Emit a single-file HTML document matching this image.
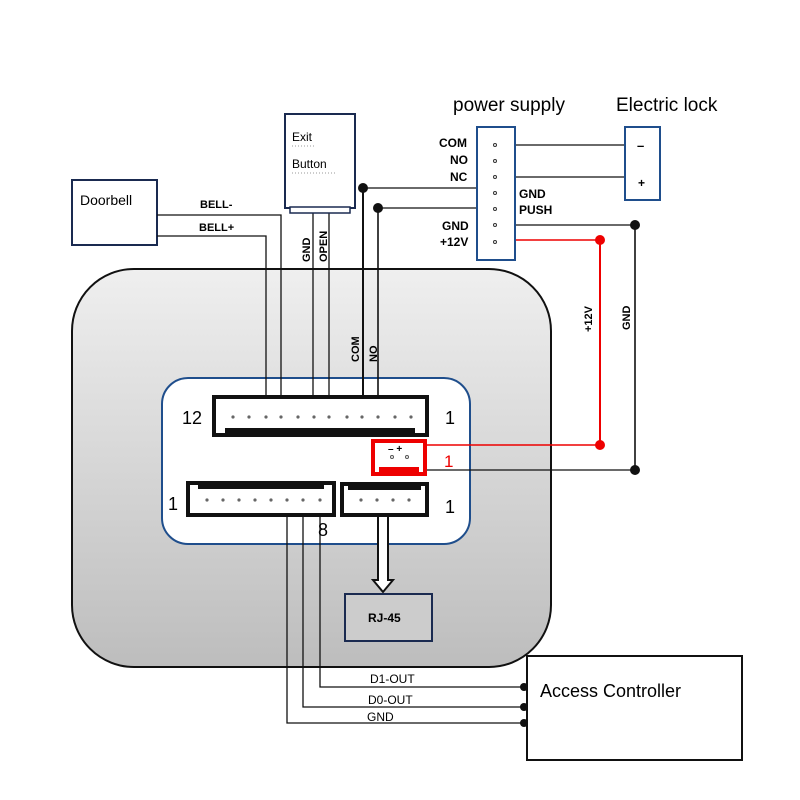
<!DOCTYPE html>
<html><head><meta charset="utf-8"><style>html,body{margin:0;padding:0;background:#fff}svg{display:block}text{font-family:"Liberation Sans",sans-serif}</style></head><body>
<svg width="800" height="800" viewBox="0 0 800 800" xmlns="http://www.w3.org/2000/svg">
<defs>
<linearGradient id="g" x1="0" y1="0" x2="0" y2="1"><stop offset="0" stop-color="#efefef"/><stop offset="1" stop-color="#bdbdbd"/></linearGradient>
</defs>
<!-- outer body -->
<rect x="72" y="269" width="479" height="398" rx="62" fill="url(#g)" stroke="#111" stroke-width="2"/>
<!-- inner -->
<rect x="162" y="378" width="308" height="166" rx="26" fill="#fff" stroke="#1f4e8c" stroke-width="2"/>

<!-- Doorbell -->
<rect x="72" y="180" width="85" height="65" fill="#fff" stroke="#1a2a50" stroke-width="2"/>
<text x="80" y="205" font-size="14">Doorbell</text>
<text x="200" y="208" font-size="11" font-weight="bold">BELL-</text>
<text x="199" y="231" font-size="11" font-weight="bold">BELL+</text>
<g stroke="#111" stroke-width="1.3" fill="none">
<polyline points="157,215 281,215 281,417"/>
<polyline points="157,236 266,236 266,417"/>
<line x1="313" y1="213" x2="313" y2="417"/>
<line x1="329" y1="213" x2="329" y2="417"/>
<polyline points="363,188 495,188" />
<polyline points="378,208 495,208" />
<line x1="363" y1="188" x2="363" y2="417" stroke-width="2"/>
<line x1="378" y1="208" x2="378" y2="417" stroke-width="1.6"/>
<line x1="495" y1="145" x2="625" y2="145"/>
<line x1="495" y1="177" x2="625" y2="177"/>
<line x1="495" y1="225" x2="635" y2="225"/>
<line x1="635" y1="225" x2="635" y2="470" stroke-width="1.6"/>
<line x1="425" y1="470" x2="635" y2="470"/>
<polyline points="320,500 320,687 524,687"/>
<polyline points="303,500 303,707 524,707"/>
<polyline points="287,500 287,723 524,723"/>
</g>
<g stroke="#e00" stroke-width="1.5" fill="none">
<line x1="495" y1="240" x2="600" y2="240"/>
<line x1="600" y1="240" x2="600" y2="445" stroke-width="2"/>
<line x1="425" y1="445" x2="600" y2="445"/>
</g>
<g fill="#111">
<circle cx="363" cy="188" r="5"/><circle cx="378" cy="208" r="5"/>
<circle cx="635" cy="225" r="5"/><circle cx="635" cy="470" r="5"/>
<circle cx="524" cy="687" r="4"/><circle cx="524" cy="707" r="4"/><circle cx="524" cy="723" r="4"/>
</g>
<g fill="#e00"><circle cx="600" cy="240" r="5"/><circle cx="600" cy="445" r="5"/></g>

<!-- Exit button -->
<rect x="285" y="114" width="70" height="94" fill="#fff" stroke="#1a2a50" stroke-width="2"/>
<rect x="290" y="207" width="60" height="6" fill="#fff" stroke="#1a2a50" stroke-width="1.5"/>
<text x="292" y="141" font-size="12">Exit</text>
<text x="292" y="168" font-size="12">Button</text>
<line x1="292" y1="146" x2="314" y2="146" stroke="#999" stroke-dasharray="1,2"/>
<line x1="292" y1="173" x2="337" y2="173" stroke="#999" stroke-dasharray="1,2"/>
<text transform="translate(310,262) rotate(-90)" font-size="11" font-weight="bold">GND</text>
<text transform="translate(327,262) rotate(-90)" font-size="11" font-weight="bold">OPEN</text>
<text transform="translate(359,362) rotate(-90)" font-size="11" font-weight="bold">COM</text>
<text transform="translate(377,362) rotate(-90)" font-size="11" font-weight="bold">NO</text>
<text transform="translate(592,332) rotate(-90)" font-size="11" font-weight="bold">+12V</text>
<text transform="translate(630,330) rotate(-90)" font-size="11" font-weight="bold">GND</text>

<!-- power supply -->
<text x="453" y="111" font-size="19">power supply</text>
<text x="616" y="111" font-size="19">Electric lock</text>
<rect x="477" y="127" width="38" height="133" fill="#fff" stroke="#1f4e8c" stroke-width="2"/>
<g fill="#fff" stroke="#333" stroke-width="1">
<circle cx="495" cy="145" r="1.5"/><circle cx="495" cy="161" r="1.5"/><circle cx="495" cy="177" r="1.5"/>
<circle cx="495" cy="193" r="1.5"/><circle cx="495" cy="209" r="1.5"/><circle cx="495" cy="225" r="1.5"/><circle cx="495" cy="242" r="1.5"/>
</g>
<g font-size="12" font-weight="bold">
<text x="439" y="147">COM</text><text x="450" y="164">NO</text><text x="450" y="181">NC</text>
<text x="519" y="198">GND</text><text x="519" y="214">PUSH</text>
<text x="442" y="230">GND</text><text x="440" y="246">+12V</text>
</g>
<rect x="625" y="127" width="35" height="73" fill="#fff" stroke="#1f4e8c" stroke-width="2"/>
<text x="637" y="150" font-size="13" font-weight="bold">–</text>
<text x="638" y="187" font-size="12" font-weight="bold">+</text>

<!-- 12 pin -->
<rect x="214" y="397" width="213" height="38" fill="#fff" stroke="#111" stroke-width="4"/>
<rect x="225" y="428" width="190" height="6" fill="#111"/>
<g fill="#666">
<circle cx="233" cy="417" r="1.6"/><circle cx="249" cy="417" r="1.6"/><circle cx="266" cy="417" r="1.6"/><circle cx="281" cy="417" r="1.6"/><circle cx="298" cy="417" r="1.6"/><circle cx="314" cy="417" r="1.6"/><circle cx="329" cy="417" r="1.6"/><circle cx="347" cy="417" r="1.6"/><circle cx="362" cy="417" r="1.6"/><circle cx="378" cy="417" r="1.6"/><circle cx="395" cy="417" r="1.6"/><circle cx="411" cy="417" r="1.6"/>
</g>
<text x="182" y="424" font-size="18">12</text>
<text x="445" y="424" font-size="18">1</text>
<!-- red -->
<rect x="373" y="441" width="52" height="33" fill="#fff" stroke="#e00" stroke-width="4"/>
<rect x="379" y="467" width="40" height="7" fill="#e00"/>
<text x="388" y="452" font-size="10" font-weight="bold">– +</text>
<circle cx="392" cy="457" r="1.5" fill="none" stroke="#555"/><circle cx="407" cy="457" r="1.5" fill="none" stroke="#555"/>
<text x="444" y="467" font-size="17" fill="#e00">1</text>
<!-- 8 pin -->
<rect x="188" y="483" width="146" height="32" fill="#fff" stroke="#111" stroke-width="4"/>
<rect x="198" y="483" width="126" height="6" fill="#111"/>
<g fill="#666">
<circle cx="207" cy="500" r="1.6"/><circle cx="223" cy="500" r="1.6"/><circle cx="239" cy="500" r="1.6"/><circle cx="255" cy="500" r="1.6"/><circle cx="271" cy="500" r="1.6"/><circle cx="287" cy="500" r="1.6"/><circle cx="303" cy="500" r="1.6"/><circle cx="320" cy="500" r="1.6"/>
</g>
<text x="168" y="510" font-size="18">1</text>
<text x="318" y="536" font-size="18">8</text>
<!-- 4 pin -->
<rect x="342" y="484" width="85" height="31" fill="#fff" stroke="#111" stroke-width="4"/>
<rect x="348" y="484" width="73" height="6" fill="#111"/>
<g fill="#666"><circle cx="361" cy="500" r="1.6"/><circle cx="377" cy="500" r="1.6"/><circle cx="393" cy="500" r="1.6"/><circle cx="409" cy="500" r="1.6"/></g>
<text x="445" y="513" font-size="18">1</text>
<!-- arrow -->
<path d="M378,517 V580 H373 L383,592 L393,580 H388 V517" fill="#fff" stroke="#111" stroke-width="2"/>
<rect x="345" y="594" width="87" height="47" fill="#ccc" stroke="#1a2a50" stroke-width="2"/>
<text x="368" y="622" font-size="12" font-weight="bold">RJ-45</text>

<!-- bottom labels -->
<text x="370" y="683" font-size="12">D1-OUT</text>
<text x="368" y="704" font-size="12">D0-OUT</text>
<text x="367" y="721" font-size="12">GND</text>
<rect x="527" y="656" width="215" height="104" fill="#fff" stroke="#111" stroke-width="2"/>
<text x="540" y="697" font-size="18">Access Controller</text>
</svg>
</body></html>
